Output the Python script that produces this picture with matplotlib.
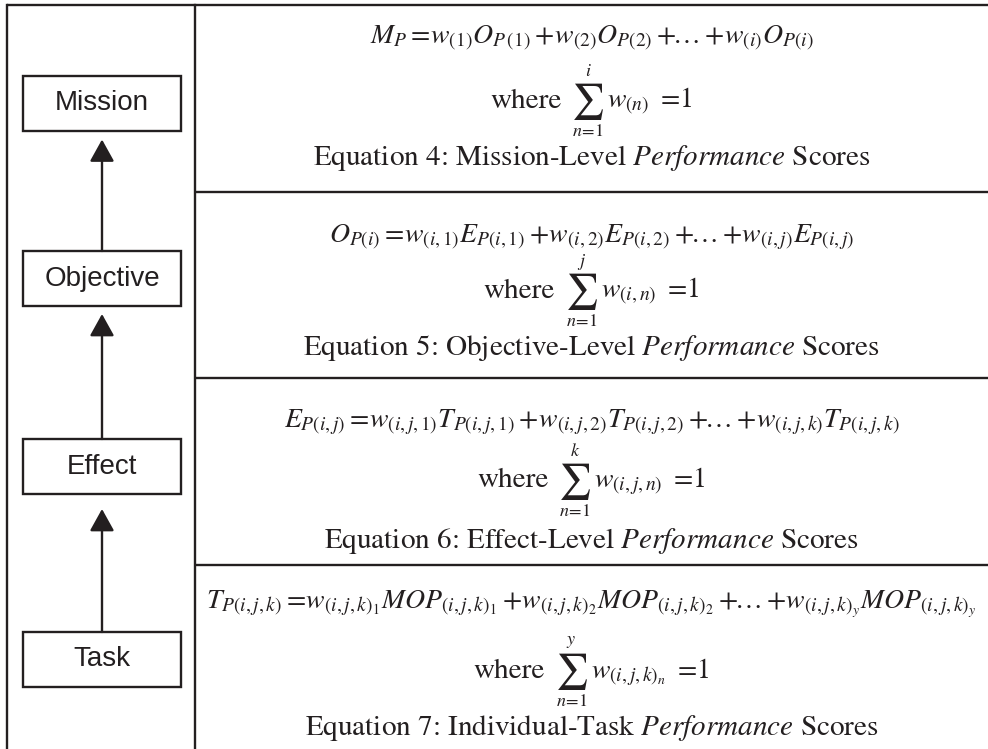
import matplotlib
matplotlib.use('Agg')
import matplotlib.pyplot as plt
from matplotlib.patches import Rectangle

plt.rcParams['mathtext.fontset'] = 'stix'

# Inhalt
levels = ['Mission', 'Objective', 'Effect', 'Task']
equations = [
    r"$M_P=\!w_{(1)}O_{P\,(1)}+\!w_{(2)}O_{P(2)}+\!\!\ldots+\!w_{(i)}O_{P(i)}$",
    r"$O_{P(i)}=\!w_{(i,1)}E_{P(i,1)}+\!w_{(i,2)}E_{P(i,2)}+\!\!\ldots+\!w_{(i,j)}E_{P(i,j)}$",
    r"$E_{P(i,j)}=\!w_{(i,j,1)}T_{P(i,j,1)}+\!w_{(i,j,2)}T_{P(i,j,2)}+\!\!\ldots+\!w_{(i,j,k)}T_{P(i,j,k)}$",
    r"$T_{P(i,j,k)}=\!w_{(i,j,k)_1}MOP_{(i,j,k)_1}+\!w_{(i,j,k)_2}MOP_{(i,j,k)_2}+\!\!\ldots+\!w_{(i,j,k)_y}MOP_{(i,j,k)_y}$",
]
sum_upper = ['i', 'j', 'k', 'y']
summands = [
    r"$w_{(n)}\ =\!1$",
    r"$w_{(i,n)}\ =\!1$",
    r"$w_{(i,j,n)}\ =\!1$",
    r"$w_{(i,j,k)_n}\ =\!1$",
]
captions = [
    r"Equation 4: Mission-Level $\it{Performance}$ Scores",
    r"Equation 5: Objective-Level $\it{Performance}$ Scores",
    r"Equation 6: Effect-Level $\it{Performance}$ Scores",
    r"Equation 7: Individual-Task $\it{Performance}$ Scores",
]

# Layout (Pixel)
W, H = 988, 749
x_left, x_div, y_top = 7, 195, 5
sep_y = [192, 378, 565]
box_cy = [103, 278.5, 466.5, 659.5]
box_w, box_h, box_cx = 158, 55, 102
arrow_gap = [9, 8, 15]
eq_base = [44, 242, 427, 609]
where_base = [108, 298, 487, 678]
cap_base = [165, 355, 548, 735]
col = '#231f20'
lw = 1.7
fs = 21

fig = plt.figure(figsize=(W / 100, H / 100), dpi=100)
ax = fig.add_axes([0, 0, 1, 1])
ax.set_xlim(0, W)
ax.set_ylim(H, 0)
ax.axis('off')

# Rahmen
ax.plot([x_left, W], [y_top, y_top], color=col, lw=lw, solid_capstyle='butt')
ax.plot([x_left, x_left], [y_top, H], color=col, lw=lw)
ax.plot([x_div, x_div], [y_top, H], color=col, lw=lw)
for y in sep_y:
    ax.plot([x_div, W], [y, y], color=col, lw=lw, solid_capstyle='butt')

# Kaesten links
for name, cy in zip(levels, box_cy):
    ax.add_patch(Rectangle((box_cx - box_w / 2, cy - box_h / 2), box_w, box_h,
                           fill=False, ec=col, lw=lw))
    ax.text(box_cx, cy, name, ha='center', va='center', fontsize=20,
            family='Liberation Sans', color=col)

# Pfeile
for i in range(len(levels) - 1):
    tip = box_cy[i] + box_h / 2 + arrow_gap[i]
    start = box_cy[i + 1] - box_h / 2
    ax.annotate('', xy=(box_cx, tip), xytext=(box_cx, start),
                arrowprops=dict(arrowstyle='-|>,head_length=1.35,head_width=0.75',
                                color=col, lw=lw, shrinkA=0, shrinkB=0))

# Gleichungen
xc = (x_div + W) / 2
r = fig.canvas.get_renderer()
for i in range(4):
    ax.text(xc, eq_base[i], equations[i], ha='center', va='baseline',
            fontsize=20, color=col)
    ax.text(xc, cap_base[i], captions[i], ha='center', va='baseline',
            fontsize=fs, family='STIXGeneral', color=col)

    # "where  sum  w = 1" aus drei Teilen, zusammen zentriert
    base = where_base[i]
    t1 = ax.text(0, base, 'where', ha='left', va='baseline', fontsize=fs,
                 family='STIXGeneral', color=col)
    t2 = ax.text(0, base - 6, r'$\sum$', ha='left', va='center', fontsize=26,
                 color=col)
    t3 = ax.text(0, base, summands[i], ha='left', va='baseline', fontsize=20,
                 color=col)
    w1, w2, w3 = [t.get_window_extent(r).width for t in (t1, t2, t3)]
    h2 = t2.get_window_extent(r).height
    g1, g2 = 10, 3
    x0 = xc - (w1 + g1 + w2 + g2 + w3) / 2
    t1.set_x(x0)
    t2.set_x(x0 + w1 + g1)
    t3.set_x(x0 + w1 + g1 + w2 + g2)
    sx = x0 + w1 + g1 + w2 / 2
    ax.text(sx, base - 6 - h2 / 2 - 10, '$' + sum_upper[i] + '$', ha='center',
            va='center', fontsize=13, color=col)
    ax.text(sx, base - 6 + h2 / 2 + 9, r'$n\!=\!1$', ha='center',
            va='center', fontsize=13, color=col)

fig.savefig('out.png', dpi=100)
